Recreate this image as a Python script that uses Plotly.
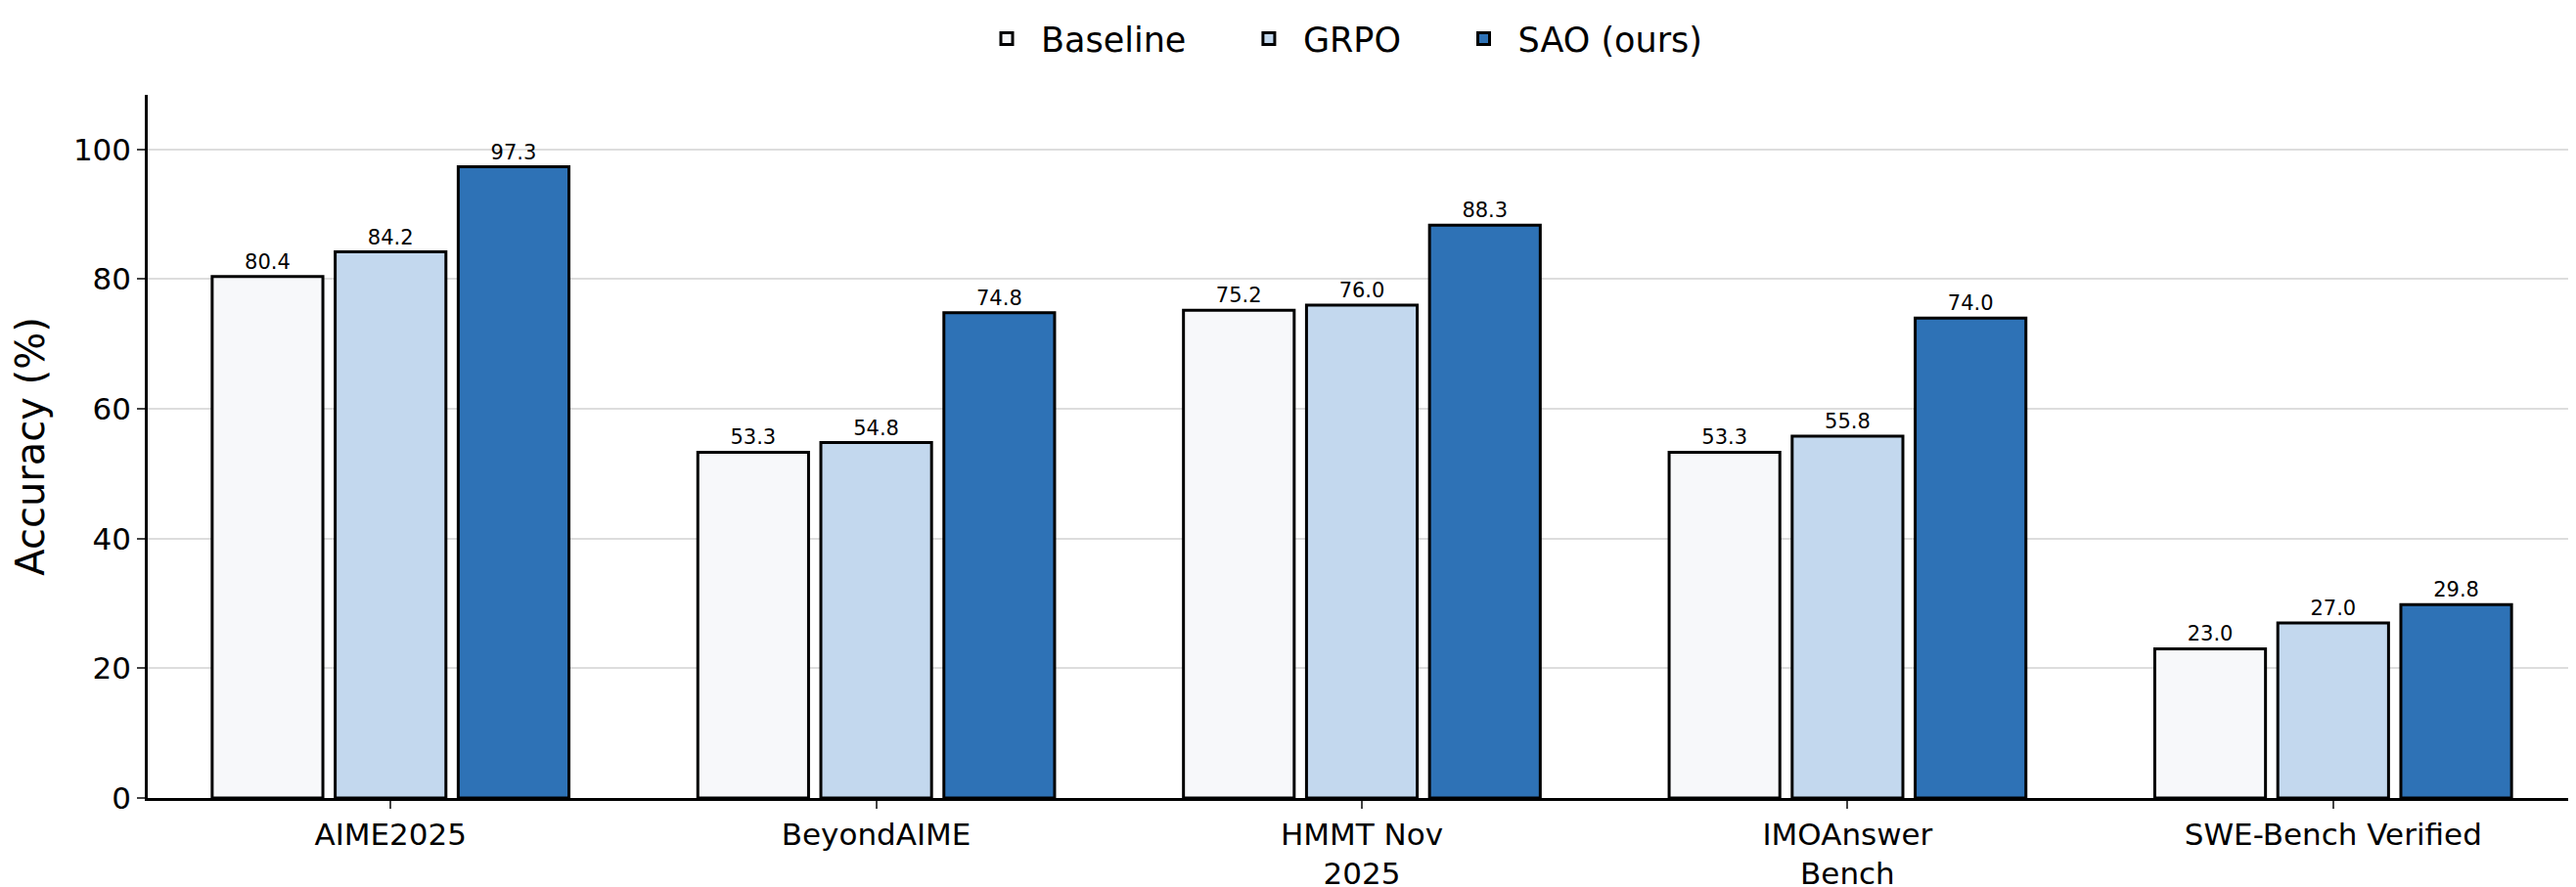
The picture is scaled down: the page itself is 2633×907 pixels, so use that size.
import plotly.graph_objects as go

categories = ["AIME2025", "BeyondAIME", "HMMT Nov<br>2025", "IMOAnswer<br>Bench", "SWE-Bench Verified"]
baseline = [80.4, 53.3, 75.2, 53.3, 23.0]
grpo = [84.2, 54.8, 76.0, 55.8, 27.0]
sao = [97.3, 74.8, 88.3, 74.0, 29.8]
series = [("Baseline", baseline, "#f7f8fa"), ("GRPO", grpo, "#c3d8ee"), ("SAO (ours)", sao, "#2e72b6")]

fig = go.Figure()
for name, vals, col in series:
    fig.add_trace(go.Bar(
        name=name + "    ", x=categories, y=vals, marker=dict(color=col, line=dict(color="black", width=3)),
        text=[f"{v:.1f}" for v in vals], textposition="outside", cliponaxis=False,
        textfont=dict(size=21, color="black")))

fig.update_layout(
    barmode="group", bargap=0.24, bargroupgap=0.1,
    width=2633, height=907, plot_bgcolor="white", paper_bgcolor="white",
    font=dict(family="DejaVu Sans", color="black"),
    margin=dict(l=143, r=8, t=89, b=99, autoexpand=False),
    legend=dict(orientation="h", x=0.5, xanchor="center", yref="container", y=0.965, yanchor="middle",
                font=dict(size=35), itemwidth=60),
    xaxis=dict(tickfont=dict(size=31), showline=True, linecolor="black", linewidth=2.5,
               ticks="outside", ticklen=8, tickwidth=2),
    yaxis=dict(range=[0, 108.4], dtick=20, tickfont=dict(size=31), showline=True, linecolor="black",
               linewidth=2.5, ticks="outside", ticklen=8, tickwidth=2, gridcolor="#dddddd", gridwidth=2,
               title=dict(text="Accuracy (%)", font=dict(size=40), standoff=20)),
)
fig.write_html("out.html")
